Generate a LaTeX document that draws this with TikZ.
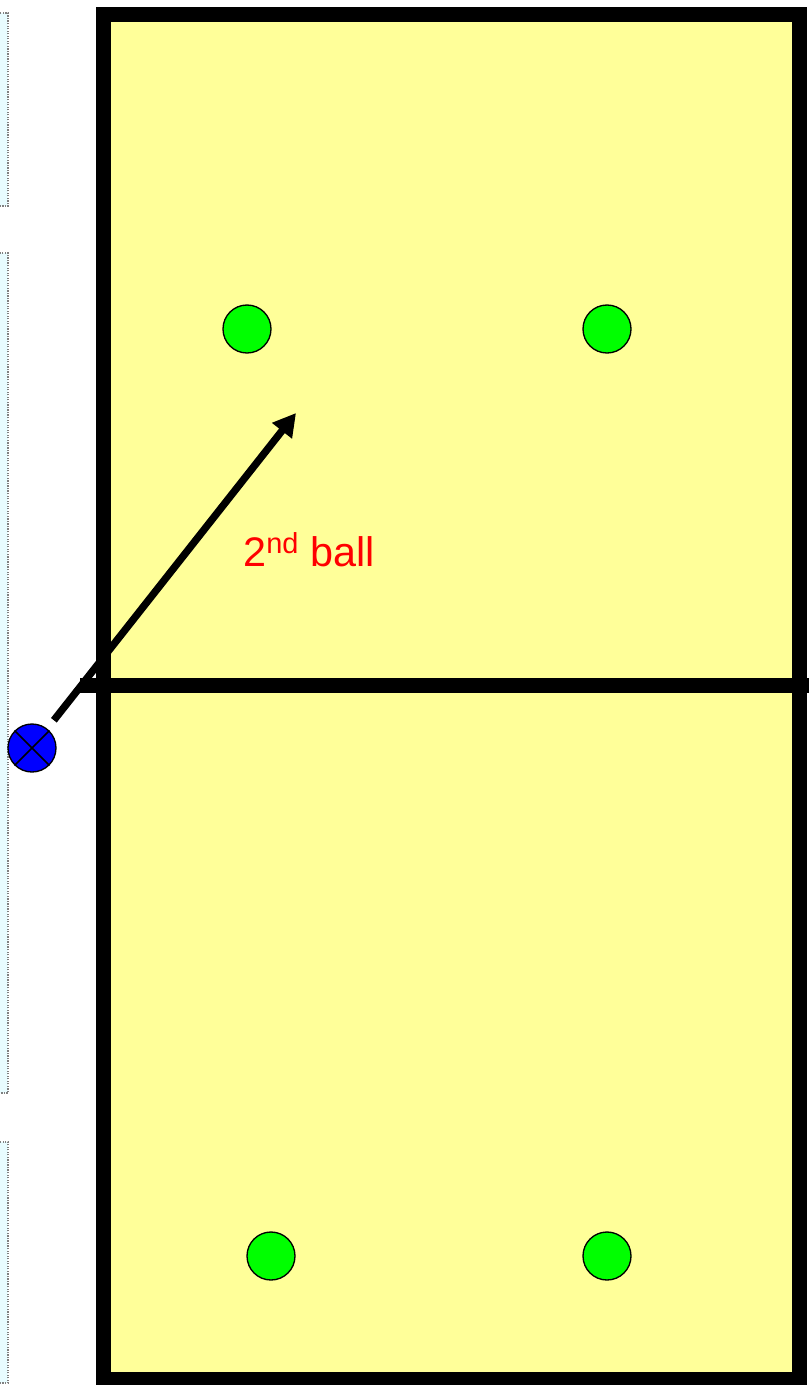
\documentclass[tikz,border=0pt]{standalone}
\usepackage{fontspec}
\setmainfont{Liberation Sans}
\usetikzlibrary{arrows.meta,positioning}
\definecolor{courtyellow}{HTML}{FFFF99}
\definecolor{sidecyan}{HTML}{E8FCFF}
\tikzset{
  court/.style={draw=black, line width=11.25pt, fill=courtyellow},
  netline/.style={draw=black, line width=11.25pt},
  sidebox/.style={draw=gray, densely dotted, line width=0.9pt, fill=sidecyan},
  player/.style={draw=black, circle, line width=1pt, minimum size=36pt, inner sep=0pt, fill=green!100},
  setterdot/.style={draw=black, circle, line width=1pt, minimum size=36pt, inner sep=0pt, fill=blue},
  arr/.style={-{Triangle[length=17pt, width=18pt]}, line width=5.5pt},
  lbl/.style={font=\fontsize{31pt}{35pt}\selectfont, text=red, inner sep=0pt},
}

\begin{document}
\begin{tikzpicture}[x=0.75pt, y=-0.75pt]
\useasboundingbox[fill=white] (0,0) rectangle (809,1385);
% side panels
\draw[sidebox] (-20,13) rectangle (8,206);
\draw[sidebox] (-20,253) rectangle (8,1093);
\draw[sidebox] (-20,1142) rectangle (8,1383);
% court and net
\draw[court] (103.5,14) rectangle (799.5,1379);
\coordinate (netl) at (80,685.5);
\coordinate (netr) at (812,685.5);
\draw[netline] (netl) -- (netr);
% players
\node[player] (p1) at (247,329) {};
\node[player] (p2) at (607,329) {};
\node[player] (p3) at (271,1256) {};
\node[player] (p4) at (607,1256) {};
\node[setterdot] (setter) at (32,748) {};
\draw[line width=1.1pt] (setter.45) -- (setter.225);
\draw[line width=1.1pt] (setter.135) -- (setter.315);
% pass
\coordinate (target) at (296,413);
\draw[arr, shorten <=8pt] (setter) -- (target);
\node[lbl, anchor=base west] (ball) at (243,566) {2\textsuperscript{nd} ball};
\end{tikzpicture}
\end{document}
